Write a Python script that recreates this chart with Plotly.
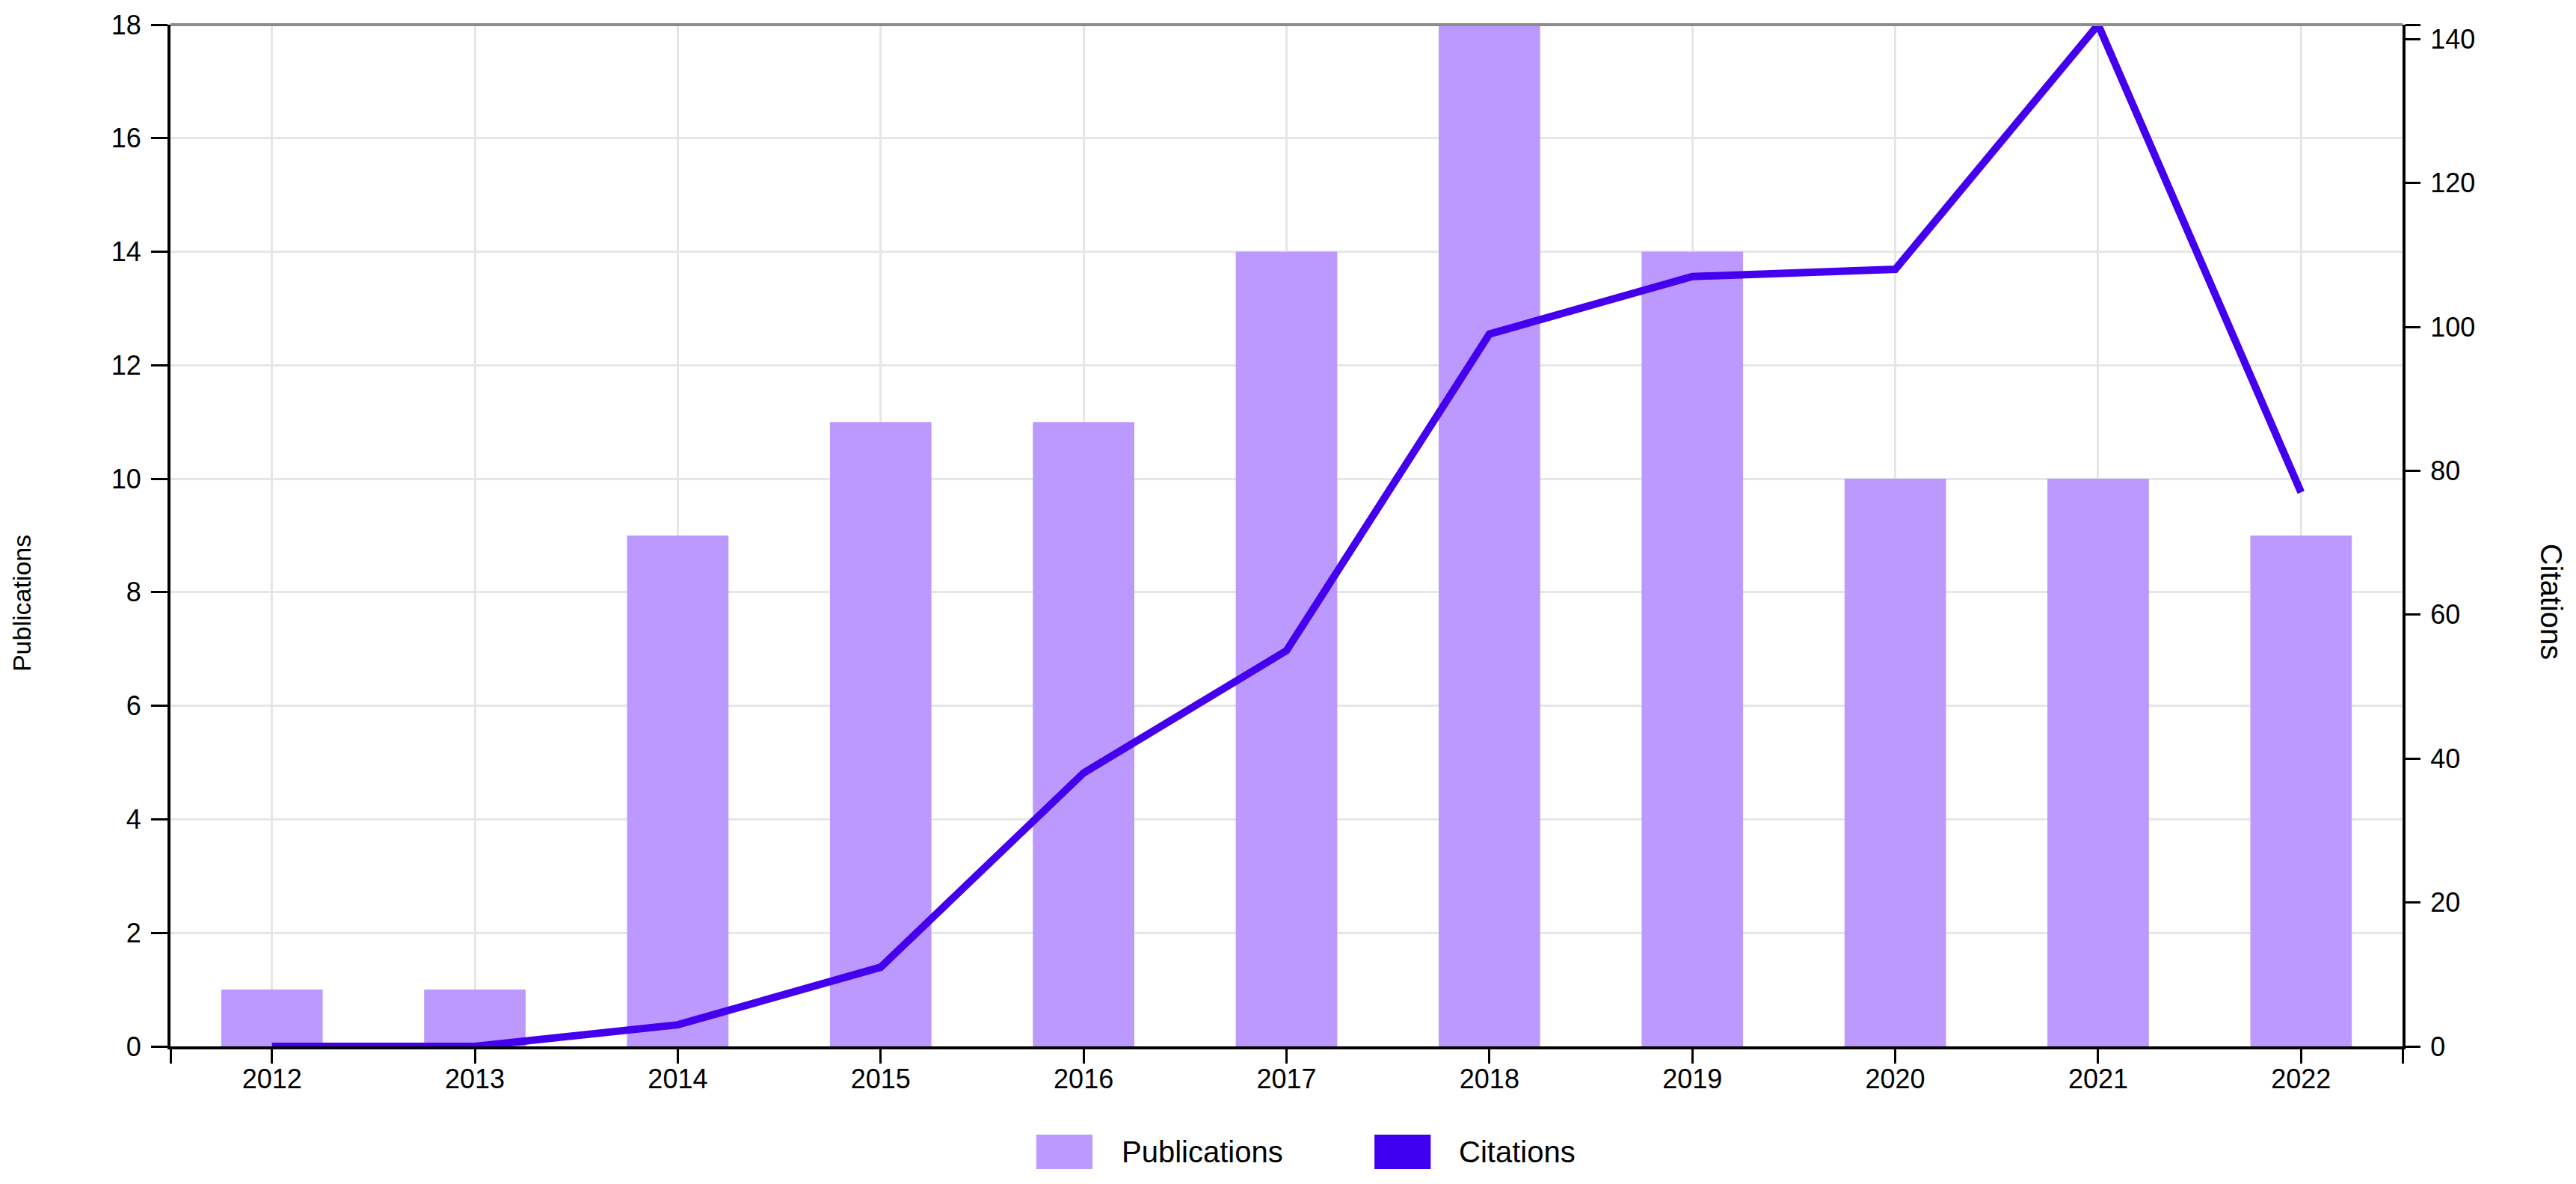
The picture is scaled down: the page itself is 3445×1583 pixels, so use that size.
import plotly.graph_objects as go

years = [2012, 2013, 2014, 2015, 2016, 2017, 2018, 2019, 2020, 2021, 2022]
publications = [1, 1, 9, 11, 11, 14, 18, 14, 10, 10, 9]
citations = [0, 0, 3, 11, 38, 55, 99, 107, 108, 142, 77]

pub_ticks = [0, 2, 4, 6, 8, 10, 12, 14, 16, 18]
cit_ticks = [0, 20, 40, 60, 80, 100, 120, 140]

BAR_COLOR = "#BB99FF"
LINE_COLOR = "#4400EE"
FONT = "Liberation Sans, Arial, sans-serif"

x_lo, x_hi = years[0] - 0.5, years[-1] + 0.5
cit_top = max(citations)

fig = go.Figure()

fig.add_trace(go.Bar(
    x=years, y=publications, name="Publications",
    marker=dict(color=BAR_COLOR, line=dict(width=0)),
    width=0.5, yaxis="y", showlegend=False,
))

fig.add_trace(go.Scatter(
    x=years, y=citations, name="Citations", mode="lines",
    line=dict(color=LINE_COLOR, width=10),
    yaxis="y2", showlegend=False,
))

axis_common = dict(
    showline=True, linecolor="black", linewidth=4,
    ticks="outside", tickcolor="black", tickwidth=3,
    tickfont=dict(family=FONT, size=36, color="black"),
    zeroline=False,
)

fig.update_layout(
    width=3445, height=1583,
    margin=dict(l=228, r=232, t=33, b=184),
    plot_bgcolor="white", paper_bgcolor="white",
    font=dict(family=FONT, color="black"),
    xaxis=dict(
        **axis_common,
        range=[x_lo, x_hi],
        tickvals=[x_lo] + years + [x_hi],
        ticktext=[""] + [str(y) for y in years] + [""],
        ticklen=19,
        ticklabelstandoff=-10,
        showgrid=True, gridcolor="#E6E6E6", gridwidth=3,
    ),
    yaxis=dict(
        **axis_common,
        range=[0, 18],
        tickvals=pub_ticks,
        ticklen=22,
        ticklabelstandoff=6,
        showgrid=True, gridcolor="#E6E6E6", gridwidth=3,
    ),
    yaxis2=dict(
        **axis_common,
        range=[0, cit_top],
        tickvals=cit_ticks + [cit_top],
        ticktext=[str(t) for t in cit_ticks] + [""],
        ticklen=20,
        ticklabelstandoff=6,
        overlaying="y", side="right", anchor="x",
        showgrid=False,
    ),
    bargap=0.5,
)

# top border of the plot area
fig.add_shape(type="line", xref="paper", yref="paper", x0=0, x1=1, y0=1, y1=1,
              line=dict(color="#8C8C8C", width=4))

# axis titles
fig.add_annotation(text="Publications", xref="paper", yref="paper",
                   x=-0.0667, y=0.434, textangle=-90, showarrow=False,
                   xanchor="center", yanchor="middle",
                   font=dict(family=FONT, size=34, color="black"))
fig.add_annotation(text="Citations", xref="paper", yref="paper",
                   x=1.0667, y=0.435, textangle=90, showarrow=False,
                   xanchor="center", yanchor="middle",
                   font=dict(family=FONT, size=40, color="black"))

# legend drawn by hand (large rectangular swatches)
legend_items = [("Publications", BAR_COLOR, 0.3879, 0.4255),
                ("Citations", "#4000F0", 0.5394, 0.5765)]
for label, color, sx, tx in legend_items:
    fig.add_shape(type="rect", xref="paper", yref="paper",
                  x0=sx, x1=sx + 0.0252, y0=-0.0864, y1=-0.1201,
                  fillcolor=color, line=dict(width=0))
    fig.add_annotation(text=label, xref="paper", yref="paper",
                       x=tx, y=-0.1032, showarrow=False,
                       xanchor="left", yanchor="middle",
                       font=dict(family=FONT, size=40, color="black"))

fig.write_html("out.html", config={"displayModeBar": False},
               post_script="document.body.style.margin='0';")
